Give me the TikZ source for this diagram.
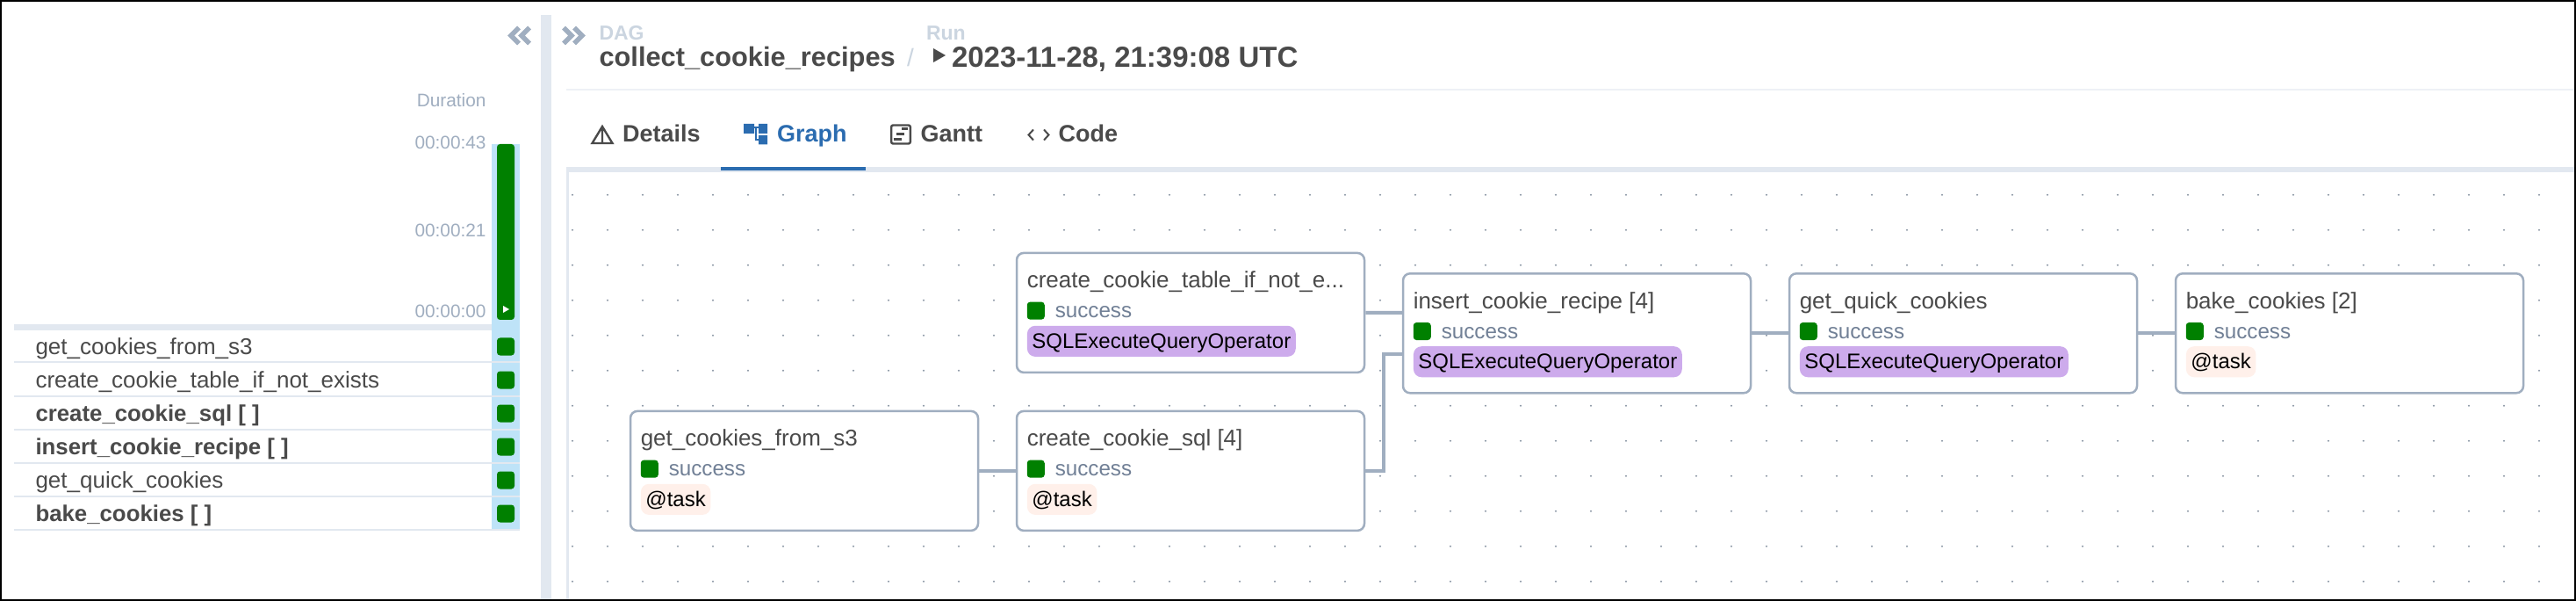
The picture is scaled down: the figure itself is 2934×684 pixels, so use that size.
\documentclass[tikz,border=0pt]{standalone}
\usepackage{fontspec}
\setmainfont{Liberation Sans}
\usetikzlibrary{calc}
\definecolor{txt}{HTML}{4A4A4A}
\definecolor{sep}{HTML}{E2E8F0}
\definecolor{edgec}{HTML}{A0AEC0}
\definecolor{blueband}{HTML}{BEE3F8}
\definecolor{okgreen}{HTML}{008000}
\definecolor{succ}{HTML}{718096}
\definecolor{faint}{HTML}{CBD5E0}
\definecolor{tabblue}{HTML}{2B6CB0}
\definecolor{sqlpill}{HTML}{CDABEC}
\definecolor{taskpill}{HTML}{FFF0EA}
\newcommand{\fz}[1]{\fontsize{#1}{#1}\selectfont}
\tikzset{
  x=1pt,y=-1pt,
  lbl/.style={inner sep=0pt,outer sep=0pt,anchor=base west},
  lblr/.style={inner sep=0pt,outer sep=0pt,anchor=base east},
  rowtxt/.style={lbl,text=txt,font=\fz{26}},
  rowbold/.style={lbl,text=txt,font=\fz{25.8}\bfseries},
  axistxt/.style={lblr,text=edgec,font=\fz{20.8}},
  tabtxt/.style={lbl,text=txt,font=\fz{27}\bfseries},
  taskbox/.style={draw=edgec,line width=2.5pt,rounded corners=8pt,fill=white,minimum width=396pt,minimum height=136pt,inner sep=0pt},
  tasktitle/.style={lbl,text=txt,font=\fz{26}},
  tasksucc/.style={lbl,text=succ,font=\fz{24.2}},
  pill/.style={inner xsep=5.5pt,inner ysep=0pt,anchor=north west,minimum height=35pt,text height=20pt,text depth=4pt,rounded corners=9pt,font=\fz{24},text=black},
  sqlstyle/.style={pill,fill=sqlpill},
  taskstyle/.style={pill,fill=taskpill},
  edge/.style={draw=edgec,line width=4pt},
  sq/.style={fill=okgreen,draw=none,rounded corners=3.5pt,minimum width=20pt,minimum height=20pt,inner sep=0pt},
}
\newcommand{\taskn}[6]{%
  \node[taskbox] (#1) at (#2,#3) {};
  \node[sq] (#1s) at ($(#1.north west)+(23,67)$) {};
  \node[tasktitle] (#1t) at ($(#1.north west)+(13,41)$) {#4};
  \node[tasksucc] (#1u) at ($(#1.north west)+(45,75.3)$) {success};
  \node[#5] (#1p) at ($(#1.north west)+(13,84)$) {#6};
}
\newcommand{\rown}[4]{%
  \node[#1] (#2) at (40.5,#3+9) {#4};
  \node[sq] (#2s) at (576,#3) {};
}
\begin{document}
\begin{tikzpicture}
\useasboundingbox (0,0) rectangle (2934,684);
\fill[white] (0,0) rectangle (2934,684);
% layout bars
\fill[sep] (616,17) rectangle (628,684);
\fill[sep] (16,369) rectangle (560,376);
\fill[blueband] (560,164) rectangle (592,603);
\foreach \yy in {412,451,489,527,565,603}
  \fill[sep] (16,\yy-1) rectangle (592,\yy+1);
\fill[sep!60!white] (645,101) rectangle (2934,103);
\fill[sep] (645,190) rectangle (2934,196);
\fill[sep] (645,190) rectangle (648,684);
\fill[tabblue] (821,190) rectangle (986,194);
% dots
\foreach \ii in {0,...,56}
  \foreach \jj in {0,...,11}
    \fill[edgec!85!black] ({652+40*\ii},{221.7+40*\jj}) circle (1.1pt);
% chevrons
\draw[edgec,line width=5.4pt,miter limit=10] (591,31.5) -- (582,40.5) -- (591,49.5) (603,31.5) -- (594,40.5) -- (603,49.5);
\draw[edgec,line width=5.4pt,miter limit=10] (642,31.5) -- (651,40.5) -- (642,49.5) (654,31.5) -- (663,40.5) -- (654,49.5);
% left panel
\node[lblr,text=edgec,font=\fz{20.8}] (durlabel) at (553.5,122) {Duration};
\node[axistxt] (t43) at (553.5,169.5) {00:00:43};
\node[axistxt] (t21) at (553.5,269.5) {00:00:21};
\node[axistxt] (t00) at (553.5,361.5) {00:00:00};
\fill[okgreen,rounded corners=3.5pt] (566,164) rectangle (586,364);
\fill[white] (573,348) -- (580,352) -- (573,356) -- cycle;
\rown{rowtxt}{r1}{394.5}{get\_cookies\_from\_s3}
\rown{rowtxt}{r2}{432.5}{create\_cookie\_table\_if\_not\_exists}
\rown{rowbold}{r3}{470.5}{create\_cookie\_sql [ ]}
\rown{rowbold}{r4}{508.5}{insert\_cookie\_recipe [ ]}
\rown{rowtxt}{r5}{546.5}{get\_quick\_cookies}
\rown{rowbold}{r6}{584.5}{bake\_cookies [ ]}
% header
\node[lbl,text=faint,font=\fz{23}\bfseries] (daglbl) at (682.5,46) {DAG};
\node[lbl,text=faint,font=\fz{23}\bfseries] (runlbl) at (1055,46) {Run};
\node[lbl,text=txt,font=\fz{30.8}\bfseries] (dagname) at (682.5,76) {collect\_cookie\_recipes};
\node[lbl,text=faint,font=\fz{28}] (slash) at (1033,76) {/};
\fill[txt] (1063,55) -- (1077,63) -- (1063,71) -- cycle;
\node[lbl,text=txt,font=\fz{33}\bfseries] (rundate) at (1084,77) {2023-11-28, 21:39:08 UTC};
% tabs
\draw[txt,line width=2.4pt,line join=miter] (686,144) -- (674.5,163) -- (697.5,163) -- cycle (686,144) -- (686,163);
\node[tabtxt] (tab1) at (709,162) {Details};
\fill[tabblue] (847,141) rectangle (859,152) (864,141) rectangle (874,152) (864,154) rectangle (874,164.5);
\draw[tabblue,line width=2pt] (859,145.5) -- (864,145.5) (860.5,145.5) -- (860.5,159) -- (864,159);
\node[tabtxt,text=tabblue] (tab2) at (885,162) {Graph};
\draw[txt,line width=2.4pt,rounded corners=2pt] (1015.2,142.5) rectangle (1036.8,163.5);
\draw[txt,line width=2.2pt] (1027,146.5) -- (1034,146.5) (1021,152.5) -- (1030,152.5) (1017.5,158.5) -- (1027,158.5);
\node[tabtxt] (tab3) at (1048.5,162) {Gantt};
\draw[txt,line width=2pt] (1177,147.5) -- (1171.5,153.5) -- (1177,159.5) (1189,147.5) -- (1194.5,153.5) -- (1189,159.5);
\node[tabtxt] (tab4) at (1205.5,162) {Code};
% graph
\taskn{table}{1356}{355.9}{create\_cookie\_table\_if\_not\_e...}{sqlstyle}{SQLExecuteQueryOperator}
\taskn{s3}{916}{535.9}{get\_cookies\_from\_s3}{taskstyle}{@task}
\taskn{sql}{1356}{535.9}{create\_cookie\_sql [4]}{taskstyle}{@task}
\taskn{insert}{1796}{379.3}{insert\_cookie\_recipe [4]}{sqlstyle}{SQLExecuteQueryOperator}
\taskn{quick}{2236}{379.3}{get\_quick\_cookies}{sqlstyle}{SQLExecuteQueryOperator}
\taskn{bake}{2676}{379.3}{bake\_cookies [2]}{taskstyle}{@task}
\draw[edge] (s3.east) -- (sql.west);
\draw[edge] (table.east) -- ([yshift=23.3pt]insert.west);
\draw[edge] (sql.east) -- ++(21,0) |- ([yshift=-23.3pt]insert.west);
\draw[edge] (insert.east) -- (quick.west);
\draw[edge] (quick.east) -- (bake.west);
% frame
\draw[black,line width=4pt] (0,0) rectangle (2934,684);
\end{tikzpicture}
\end{document}
